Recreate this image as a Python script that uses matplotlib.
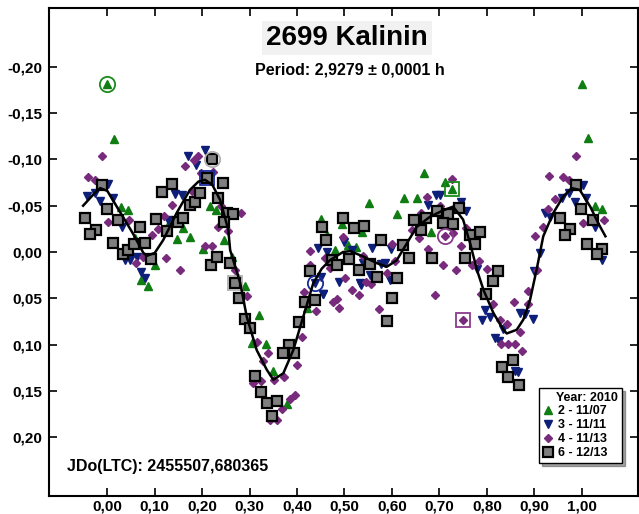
import matplotlib
matplotlib.use("Agg")
import matplotlib.pyplot as plt
from matplotlib.lines import Line2D
from matplotlib.ticker import FuncFormatter

plt.rcParams["font.family"] = ["Liberation Sans", "DejaVu Sans"]
plt.rcParams["font.weight"] = "bold"

# phase, relative mag
g_x = [0.0, 0.015, 0.029, 0.043, 0.058, 0.1, 0.072, 0.086, 0.132, 0.146, 0.174, 0.16, 0.216, 0.202,
       0.23, 0.246, 0.262, 0.29, 0.32, 0.306, 0.335, 0.349, 0.378, 0.422, 0.45, 0.464, 0.48, 0.668,
       0.712, 0.727, 0.552, 0.625, 0.653, 0.611, 0.682, 0.494, 0.536, 0.508, 0.524, 1.0, 1.014,
       1.028, 1.043]
g_y = [-0.181, -0.122, -0.049, -0.045, -0.015, 0.014, 0.03, 0.037, -0.033, -0.014, -0.016, -0.026,
       -0.05, -0.003, -0.045, -0.013, 0.005, 0.037, 0.068, 0.098, 0.099, 0.128, 0.164, 0.061, -0.036,
       -0.018, -0.002, -0.085, -0.076, -0.068, -0.053, -0.058, -0.058, -0.041, -0.022, -0.03, -0.022,
       -0.008, -0.005, -0.181, -0.123, -0.05, -0.046]

n_x = [0.002, -0.026, -0.015, -0.043, 0.013, 0.03, 0.037, 0.048, 0.062, 0.072, 0.079, 0.143, 0.157,
       0.129, 0.171, 0.188, 0.206, 0.445, 0.464, 0.438, 0.45, 0.455, 0.693, 0.701, 0.675, 0.756,
       0.745, 0.598, 0.559, 0.499, 0.515, 0.54, 0.578, 0.585, 0.596, 0.554, 0.534, 0.489, 0.533,
       0.454, 0.779, 0.796, 0.807, 0.789, 0.835, 0.87, 0.88, 0.897, 0.817, 0.826, 0.859, 0.866,
       1.003, 0.974, 0.958, 0.985, 1.01, 0.923, 0.933, 1.028, 1.043, 0.912, 0.9]
n_y = [-0.073, -0.064, -0.055, -0.06, -0.058, -0.027, 0.009, 0.009, 0.005, 0.022, 0.028, -0.063,
       -0.062, -0.035, -0.104, -0.094, -0.11, -0.004, 0.0, 0.033, 0.027, 0.045, -0.062, -0.062,
       -0.051, -0.044, -0.054, -0.003, -0.004, -0.011, -0.002, 0.012, 0.013, 0.012, 0.03, 0.025,
       0.036, 0.032, 0.034, 0.045, 0.018, 0.063, 0.07, 0.073, 0.083, 0.066, 0.067, 0.072, 0.093,
       0.096, 0.129, 0.13, -0.072, -0.064, -0.058, -0.054, -0.058, -0.042, -0.038, -0.027, 0.009,
       0.001, 0.021]

p_x = [-0.012, -0.04, -0.026, 0.002, 0.046, 0.06, 0.076, 0.123, 0.153, 0.094, 0.106, 0.12, 0.136,
       0.178, 0.164, 0.183, 0.192, 0.198, 0.206, 0.22, 0.223, 0.24, 0.281, 0.234, 0.255, 0.269,
       0.273, 0.427, 0.459, 0.427, 0.469, 0.295, 0.315, 0.338, 0.329, 0.351, 0.372, 0.308, 0.323,
       0.368, 0.385, 0.396, 0.343, 0.357, 0.399, 0.41, 0.44, 0.415, 0.475, 0.484, 0.489, 0.726,
       0.673, 0.701, 0.661, 0.729, 0.712, 0.642, 0.658, 0.6, 0.677, 0.745, 0.707, 0.735, 0.497,
       0.54, 0.606, 0.589, 0.545, 0.555, 0.501, 0.515, 0.531, 0.573, 0.691, 0.749, 0.768, 0.784,
       0.8, 0.787, 0.814, 0.857, 0.887, 0.886, 0.828, 0.843, 0.871, 0.829, 0.844, 0.859, 0.874,
       0.989, 0.932, 0.96, 0.974, 0.944, 0.93, 1.047, 1.003, 0.918, 0.902, 0.905, 0.756]
p_y = [-0.104, -0.081, -0.078, -0.032, -0.035, 0.012, 0.005, 0.006, 0.019, -0.018, -0.025, -0.039,
       -0.051, -0.066, -0.093, -0.099, -0.104, -0.085, -0.006, -0.006, -0.086, -0.05, -0.042,
       -0.027, -0.023, 0.019, 0.027, -0.001, 0.006, 0.014, 0.017, 0.048, 0.097, 0.109, 0.118,
       0.138, 0.135, 0.142, 0.139, 0.17, 0.159, 0.154, 0.181, 0.181, 0.122, 0.092, 0.064, 0.043,
       0.054, 0.051, 0.06, -0.079, -0.059, -0.05, -0.042, -0.02, -0.017, -0.024, -0.015, -0.009,
       -0.003, -0.006, 0.014, 0.019, -0.016, 0.004, 0.01, 0.023, 0.032, 0.035, 0.028, 0.041, 0.046,
       0.062, 0.046, 0.073, 0.014, 0.01, 0.018, 0.045, 0.056, 0.054, 0.042, 0.056, 0.073, 0.078,
       0.086, 0.099, 0.099, 0.099, 0.107, -0.104, -0.082, -0.081, -0.078, -0.057, -0.046, -0.035,
       -0.031, -0.027, -0.017, 0.019, -0.026]

s_x = [-0.012, 0.0, -0.047, -0.024, -0.036, 0.022, 0.069, 0.011, 0.034, 0.044, 0.057, 0.079, 0.092,
       0.103, 0.116, 0.137, 0.125, 0.15, 0.16, 0.174, 0.185, 0.195, 0.21, 0.219, 0.22, 0.243,
       0.234, 0.252, 0.266, 0.246, 0.231, 0.259, 0.269, 0.278, 0.29, 0.301, 0.311, 0.323, 0.336,
       0.357, 0.347, 0.382, 0.37, 0.394, 0.405, 0.417, 0.438, 0.452, 0.462, 0.473, 0.484, 0.427,
       0.696, 0.719, 0.741, 0.708, 0.729, 0.646, 0.672, 0.661, 0.624, 0.577, 0.636, 0.684, 0.754,
       0.496, 0.52, 0.541, 0.509, 0.531, 0.554, 0.568, 0.611, 0.6, 0.589, 0.786, 0.765, 0.775,
       0.823, 0.812, 0.798, 0.856, 0.833, 0.844, 0.868, 0.988, 0.999, 0.954, 1.023, 0.975, 0.965,
       1.012, 1.043, 1.033]
s_y = [-0.072, -0.046, -0.037, -0.024, -0.019, -0.035, -0.027, -0.01, 0.002, -0.002, -0.009, -0.01,
       0.008, -0.036, -0.065, -0.073, -0.023, -0.032, -0.037, -0.051, -0.054, -0.064, -0.08, 0.014,
       -0.1, -0.075, -0.058, -0.042, -0.041, -0.032, 0.005, 0.012, 0.034, 0.05, 0.072, 0.082, 0.134,
       0.151, 0.163, 0.161, 0.177, 0.1, 0.109, 0.109, 0.076, 0.054, 0.052, -0.027, -0.013, 0.009,
       0.014, 0.021, -0.044, -0.041, -0.047, -0.031, -0.03, -0.035, -0.037, -0.024, -0.008, -0.013,
       0.006, 0.006, 0.006, -0.037, -0.026, -0.028, 0.008, 0.019, 0.013, 0.027, 0.028, 0.05, 0.075,
       -0.022, -0.018, -0.009, 0.02, 0.031, 0.045, 0.117, 0.124, 0.135, 0.144, -0.072, -0.046,
       -0.037, -0.035, -0.025, -0.018, -0.009, -0.003, 0.002]

# fitted curve
fit_x = [-0.051, -0.026, -0.015, 0.0, 0.02, 0.054, 0.076, 0.084, 0.1, 0.118, 0.146, 0.174, 0.192,
         0.206, 0.222, 0.238, 0.255, 0.259, 0.28, 0.294, 0.315, 0.336, 0.35, 0.371, 0.392, 0.413,
         0.434, 0.452, 0.469, 0.497, 0.512, 0.54, 0.568, 0.589, 0.61, 0.631, 0.652, 0.68, 0.708,
         0.729, 0.75, 0.765, 0.779, 0.793, 0.814, 0.835, 0.842, 0.863, 0.877, 0.891, 0.905, 0.919,
         0.94, 0.961, 0.979, 0.996, 1.018, 1.035, 1.05]
fit_y = [-0.05, -0.064, -0.069, -0.066, -0.049, -0.02, 0.001, 0.004, 0.001, -0.013, -0.042, -0.067,
         -0.076, -0.078, -0.072, -0.056, -0.024, -0.002, 0.033, 0.07, 0.106, 0.127, 0.138, 0.131,
         0.106, 0.07, 0.034, 0.018, 0.009, 0.0, -0.001, 0.005, 0.012, 0.016, 0.009, -0.009, -0.027,
         -0.038, -0.045, -0.049, -0.035, -0.009, 0.019, 0.041, 0.066, 0.084, 0.088, 0.084, 0.073,
         0.052, 0.019, -0.017, -0.042, -0.06, -0.069, -0.067, -0.049, -0.031, -0.017]

# ringed points: x, y, marker, colour
ring_x = [0.0, 0.22, 0.21, 0.269, 0.438, 0.727, 0.712, 0.749]
ring_y = [-0.181, -0.1, -0.08, 0.034, 0.033, -0.068, -0.017, 0.073]
ring_m = ["o", "o", "s", "s", "o", "s", "o", "s"]
ring_c = ["#1a8a1a", "#b0b0b0", "#1a2a9a", "#b0b0b0", "#1a2a9a", "#1a8a1a", "#8a3a8a", "#8a3a8a"]

labels = ["2 - 11/07", "3 - 11/11", "4 - 11/13", "6 - 12/13"]
xticks = [0.0, 0.1, 0.2, 0.3, 0.4, 0.5, 0.6, 0.7, 0.8, 0.9, 1.0]
yticks = [-0.2, -0.15, -0.1, -0.05, 0.0, 0.05, 0.1, 0.15, 0.2]

green = "#0f7d12"
navy = "#0e1f7a"
purple = "#782a7c"
grey = "#7f7f7f"

fig = plt.figure(figsize=(6.39, 5.14), dpi=100)
ax = fig.add_axes([49 / 639, 18 / 514, 589 / 639, 488 / 514])

ax.plot(g_x, g_y, "^", ms=6, color=green, mec=green, ls="none", zorder=3)
ax.plot(n_x, n_y, "v", ms=6, color=navy, mec=navy, ls="none", zorder=3)
ax.plot(p_x, p_y, "D", ms=4.5, color=purple, mec=purple, ls="none", zorder=3)
ax.plot(s_x, s_y, "s", ms=6.5, color=grey, mec="black", mew=1.6, ls="none", zorder=4)
for x, y, m, c in zip(ring_x, ring_y, ring_m, ring_c):
    ax.plot([x], [y], m, ms=11 if m == "o" else 10.5, mfc="none", mec=c, mew=1.3, zorder=5)
ax.plot(fit_x, fit_y, color="black", lw=1.8, zorder=6)

ax.set_xlim(-0.1229, 1.1187)
ax.set_ylim(0.2635, -0.2635)
ax.set_xticks(xticks)
ax.set_yticks(yticks)
fmt = FuncFormatter(lambda v, p: f"{v:.2f}".replace(".", ",").replace("-0,00", "0,00"))
ax.xaxis.set_major_formatter(fmt)
ax.yaxis.set_major_formatter(fmt)
ax.tick_params(direction="in", top=True, right=True, length=6, width=1.2, labelsize=11)
ax.tick_params(axis="x", pad=2.5)
ax.tick_params(axis="y", pad=5)
for sp in ax.spines.values():
    sp.set_linewidth(1.5)

ax.text(0.506, 0.939, "2699 Kalinin", transform=ax.transAxes, ha="center", va="center",
        fontsize=20, fontweight="bold",
        bbox=dict(facecolor="#f1f1f1", edgecolor="none", pad=3))
ax.text(0.511, 0.873, "Period: 2,9279 \u00b1 0,0001 h", transform=ax.transAxes, ha="center",
        va="center", fontsize=11.5, fontweight="bold")
ax.text(0.031, 0.061, "JDo(LTC): 2455507,680365", transform=ax.transAxes, ha="left",
        va="center", fontsize=11.5, fontweight="bold")

handles = [
    Line2D([], [], marker="^", ls="none", color=green, ms=6),
    Line2D([], [], marker="v", ls="none", color=navy, ms=6),
    Line2D([], [], marker="D", ls="none", color=purple, ms=4.5),
    Line2D([], [], marker="s", ls="none", color=grey, mec="black", mew=1.6, ms=6.5),
]
# trailing spaces widen the entries so the title sits at the right, as in the original
leg = ax.legend(handles, [l + "   " for l in labels], title="Year: 2010", loc="lower right",
                bbox_to_anchor=(0.973, 0.068), borderaxespad=0, fancybox=False, shadow=True,
                edgecolor="black", framealpha=1, handlelength=0.9, handletextpad=0.35,
                borderpad=0.3, labelspacing=0.15, prop={"size": 9, "weight": "bold"},
                title_fontproperties={"size": 9, "weight": "bold"})
leg.get_frame().set_linewidth(1.0)
leg._legend_box.align = "right"

fig.savefig("out.png", dpi=100)
